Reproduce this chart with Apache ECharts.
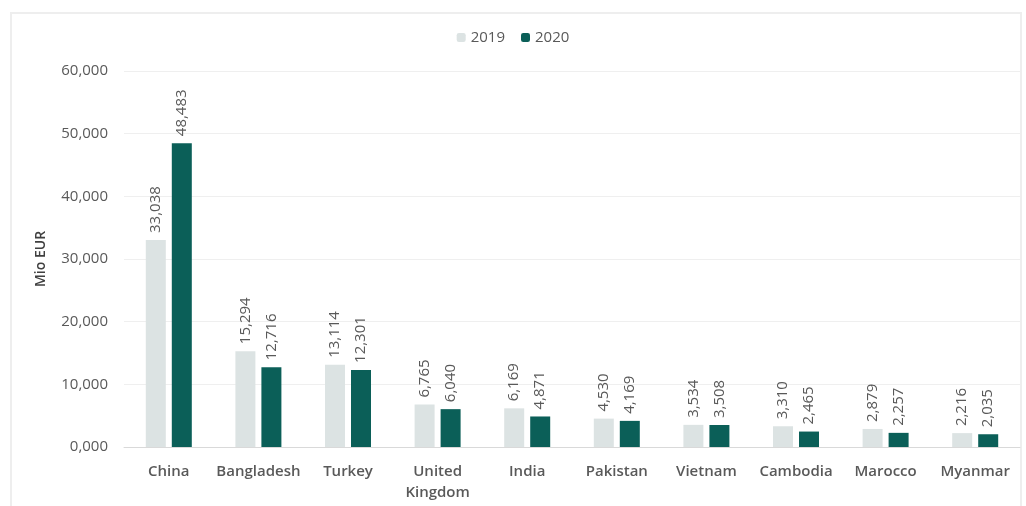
<!DOCTYPE html>
<html>
<head>
<meta charset="utf-8">
<script src="https://cdn.jsdelivr.net/npm/echarts@6/dist/echarts.min.js"></script>
<style>
  html, body { margin: 0; padding: 0; background: #fff; }
  #frame { position: absolute; left: 10px; top: 12px; width: 1012px; height: 500px; border: 2px solid #eeeeee; box-sizing: border-box; }
  #chart { width: 1026px; height: 506px; }
</style>
</head>
<body>
<div id="frame"></div>
<div id="chart"></div>
<script>
const countries = ['China', 'Bangladesh', 'Turkey', 'United\nKingdom', 'India', 'Pakistan', 'Vietnam', 'Cambodia', 'Marocco', 'Myanmar'];
const values2019 = [33038, 15294, 13114, 6765, 6169, 4530, 3534, 3310, 2879, 2216];
const values2020 = [48483, 12716, 12301, 6040, 4871, 4169, 3508, 2465, 2257, 2035];

const font = '"Open Sans", sans-serif';
const fmt = (v) => Number(v).toLocaleString('en-US');

const chart = echarts.init(document.getElementById('chart'));

function barLabel() {
  return {
    show: true,
    position: 'top',
    rotate: 90,
    align: 'left',
    verticalAlign: 'middle',
    distance: 7,
    color: '#595959',
    fontFamily: font,
    fontSize: 15,
    formatter: (p) => fmt(p.value),
  };
}

chart.setOption({
  animation: false,
  legend: {
    top: 25,
    left: 'center',
    itemWidth: 9,
    itemHeight: 9,
    itemGap: 16,
    textStyle: { color: '#595959', fontFamily: font, fontSize: 15 },
    data: ['2019', '2020'],
  },
  grid: { left: 124, right: 6, top: 71, bottom: 59 },
  xAxis: {
    type: 'category',
    data: countries,
    axisLine: { lineStyle: { color: '#d9d9d9' } },
    axisTick: { show: false },
    axisLabel: {
      color: '#595959',
      fontFamily: font,
      fontSize: 15,
      fontWeight: 600,
      margin: 14,
      lineHeight: 21,
      interval: 0,
    },
  },
  yAxis: {
    type: 'value',
    min: 0,
    max: 60000,
    interval: 10000,
    name: 'Mio EUR',
    nameLocation: 'middle',
    nameGap: 76,
    nameTextStyle: { color: '#404040', fontFamily: font, fontSize: 14, fontWeight: 600 },
    axisLine: { show: false },
    axisTick: { show: false },
    splitLine: { lineStyle: { color: '#efefef' } },
    axisLabel: {
      color: '#595959',
      fontFamily: font,
      fontSize: 15,
      margin: 16,
      formatter: (v) => (v === 0 ? '0,000' : fmt(v)),
    },
  },
  series: [
    {
      name: '2019',
      type: 'bar',
      data: values2019,
      barWidth: 20,
      barGap: '30%',
      itemStyle: { color: '#dce3e3' },
      label: barLabel(),
    },
    {
      name: '2020',
      type: 'bar',
      data: values2020,
      barWidth: 20,
      itemStyle: { color: '#0b5f58' },
      label: barLabel(),
    },
  ],
});
</script>
</body>
</html>
